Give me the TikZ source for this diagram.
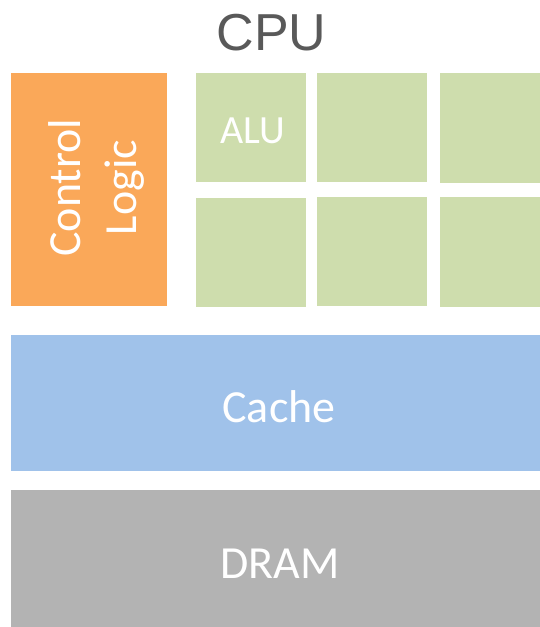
\documentclass[tikz,border=0pt]{standalone}
\usepackage{fontspec}
\setmainfont{Carlito}
\newfontfamily\titlefont{Liberation Sans}
\definecolor{ctrlorange}{HTML}{FAA859}
\definecolor{alugreen}{HTML}{CEDDAD}
\definecolor{cacheblue}{HTML}{A0C2EA}
\definecolor{dramgray}{HTML}{B3B3B3}
\definecolor{titlegray}{HTML}{595959}
\tikzset{
  block/.style={rectangle, inner sep=0pt, outer sep=0pt, anchor=north west, draw=none},
  blocktext/.style={text=white, inner sep=0pt, anchor=base, font=\fontsize{46}{54}\selectfont},
}
\begin{document}
\begin{tikzpicture}[x=1pt, y=-1pt]
  \useasboundingbox (0,0) rectangle (540,627);

  % title
  \node[anchor=base, inner sep=0pt, text=titlegray, font=\titlefont\fontsize{52}{60}\selectfont] (cpu) at (271.5,50) {CPU};

  % control unit
  \node[block, fill=ctrlorange, minimum width=156pt, minimum height=233pt] (ctrl) at (11,73) {};
  \node[blocktext, rotate=90] (ctrlA) at (80,187.5) {Control};
  \node[blocktext, rotate=90] (ctrlB) at (136,187.5) {Logic};

  % ALU grid
  \node[block, fill=alugreen, minimum width=110pt, minimum height=109pt] (alu1) at (196,73) {};
  \node[block, fill=alugreen, minimum width=110pt, minimum height=109pt] (alu2) at (317,73) {};
  \node[block, fill=alugreen, minimum width=100pt, minimum height=110pt] (alu3) at (440,73) {};
  \node[block, fill=alugreen, minimum width=110pt, minimum height=109pt] (alu4) at (196,198) {};
  \node[block, fill=alugreen, minimum width=110pt, minimum height=109pt] (alu5) at (317,197) {};
  \node[block, fill=alugreen, minimum width=100pt, minimum height=110pt] (alu6) at (440,197) {};
  \node[blocktext, font=\fontsize{40}{48}\selectfont] (alutext) at (253,143) {ALU};

  % cache
  \node[block, fill=cacheblue, minimum width=529pt, minimum height=136pt] (cache) at (11,335) {};
  \node[blocktext] (cachetext) at (279,422) {Cache};

  % DRAM
  \node[block, fill=dramgray, minimum width=529pt, minimum height=137pt] (dram) at (11,490) {};
  \node[blocktext] (dramtext) at (280,578) {DRAM};
\end{tikzpicture}
\end{document}
